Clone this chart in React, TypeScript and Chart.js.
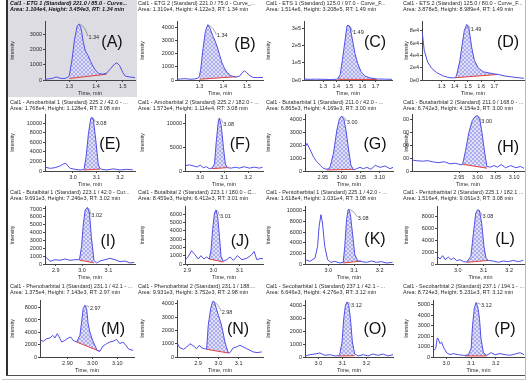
import React, { useEffect, useRef } from "react";
import { Chart, registerables } from "chart.js";

Chart.register(...registerables);

const FONT = "'Liberation Sans', Arial, sans-serif";
const BLUE = "#4f4fe8";
const RED = "#e2403c";
const AXIS = "#444444";
const TEXT = "#2a2a2a";

// ---------- Panel A : ETG 1 ----------
const aTitle = ["Cal1 - ETG 1 (Standard) 221.0 / 85.0 - Curve...", "Area: 1.104e4, Height: 3.454e3, RT: 1.34 min"];
const aTime = [1.209, 1.225, 1.24, 1.25, 1.26, 1.27, 1.285, 1.295, 1.3, 1.31, 1.32, 1.33, 1.338, 1.345, 1.352, 1.36, 1.37, 1.38, 1.39, 1.4, 1.41, 1.425, 1.44, 1.455, 1.47, 1.478, 1.488, 1.5, 1.51, 1.525, 1.546];
const aIntensity = [40, 80, 120, 200, 150, 100, 110, 180, 300, 1300, 2700, 3550, 3650, 3300, 2500, 1900, 1600, 1200, 850, 600, 420, 380, 450, 750, 1050, 1120, 950, 500, 250, 200, 150];
const aBaseTime = [1.3, 1.44];
const aBaseIntensity = [100, 380];
const aXTicks = [1.3, 1.4, 1.5];
const aYTicks = [0, 1000, 2000, 3000];

// ---------- Panel B : ETG 2 ----------
const bTitle = ["Cal1 - ETG 2 (Standard) 221.0 / 75.0 - Curve_...", "Area: 1.310e4, Height: 4.122e3, RT: 1.34 min"];
const bTime = [1.205, 1.22, 1.24, 1.26, 1.28, 1.295, 1.3, 1.305, 1.315, 1.325, 1.335, 1.345, 1.355, 1.365, 1.375, 1.385, 1.395, 1.405, 1.415, 1.43, 1.445, 1.455, 1.47, 1.48, 1.49, 1.5, 1.51, 1.525, 1.545, 1.568];
const bIntensity = [40, 80, 100, 60, 80, 150, 300, 800, 2400, 3700, 4200, 3900, 3400, 3000, 2500, 1900, 1300, 900, 600, 350, 250, 220, 300, 550, 700, 550, 350, 200, 180, 200];
const bBaseTime = [1.3, 1.455];
const bBaseIntensity = [60, 250];
const bXTicks = [1.3, 1.4, 1.5];
const bYTicks = [0, 1000, 2000, 3000, 4000];

// ---------- Panel C : ETS 1 ----------
const cTitle = ["Cal1 - ETS 1 (Standard) 125.0 / 97.0 - Curve_F...", "Area: 1.514e6, Height: 3.208e5, RT: 1.49 min"];
const cTime = [1.154, 1.2, 1.25, 1.3, 1.35, 1.4, 1.41, 1.43, 1.447, 1.467, 1.482, 1.49, 1.505, 1.523, 1.543, 1.564, 1.589, 1.62, 1.658, 1.71, 1.77, 1.826];
const cIntensity = [5000, 4000, 5000, 4000, 3000, 4000, 6000, 30000, 115000, 230000, 315000, 322000, 310000, 240000, 155000, 97000, 49000, 23000, 12000, 6000, 5000, 4000];
const cBaseTime = [1.41, 1.71];
const cBaseIntensity = [4000, 3000];
const cXTicks = [1.3, 1.4, 1.5, 1.6, 1.7];
const cYTicks = [0, 100000, 200000, 300000];

// ---------- Panel D : ETS 2 ----------
const dTitle = ["Cal1 - ETS 2 (Standard) 125.0 / 80.0 - Curve_F...", "Area: 3.878e5, Height: 8.989e4, RT: 1.49 min"];
const dTime = [1.153, 1.168, 1.194, 1.224, 1.262, 1.313, 1.363, 1.389, 1.405, 1.414, 1.439, 1.457, 1.472, 1.49, 1.508, 1.528, 1.548, 1.579, 1.617, 1.655, 1.705, 1.73, 1.781, 1.857, 1.925];
const dIntensity = [77000, 48000, 29000, 19000, 12000, 6400, 3700, 3500, 3800, 8000, 32000, 59000, 80000, 90000, 83000, 53000, 32000, 19000, 13300, 11700, 9600, 9000, 6400, 4300, 2700];
const dBaseTime = [1.405, 1.73];
const dBaseIntensity = [3800, 9000];
const dXTicks = [1.3, 1.4, 1.5, 1.6, 1.7];
const dYTicks = [0, 20000, 40000, 60000, 80000];

// ---------- Panel E : Amobarbital 1 ----------
const eTitle = ["Cal1 - Amobarbital 1 (Standard) 225.2 / 42.0 - ...", "Area: 1.768e4, Height: 1.128e4, RT: 3.08 min"];
const eTime = [2.884, 2.903, 2.924, 2.945, 2.959, 2.969, 2.988, 3.009, 3.03, 3.047, 3.056, 3.066, 3.076, 3.08, 3.087, 3.097, 3.108, 3.115, 3.123, 3.144, 3.172, 3.2, 3.229, 3.255];
const eIntensity = [770, 560, 700, 1050, 1470, 1600, 560, 350, 210, 300, 3000, 7900, 11050, 11300, 10700, 6500, 1260, 500, 350, 210, 450, 210, 350, 250];
const eBaseTime = [3.047, 3.115];
const eBaseIntensity = [200, 400];
const eXTicks = [3.0, 3.1, 3.2];
const eYTicks = [0, 2000, 4000, 6000, 8000, 10000];

// ---------- Panel F : Amobarbital 2 ----------
const fTitle = ["Cal1 - Amobarbital 2 (Standard) 225.2 / 182.0 - ...", "Area: 1.573e4, Height: 1.114e4, RT: 3.08 min"];
const fTime = [2.938, 2.955, 2.976, 2.988, 3.0, 3.013, 3.026, 3.038, 3.05, 3.06, 3.067, 3.076, 3.08, 3.088, 3.097, 3.105, 3.113, 3.13, 3.147, 3.163, 3.184, 3.205, 3.226, 3.247, 3.26];
const fIntensity = [1100, 1300, 1000, 850, 1250, 700, 900, 500, 600, 1500, 6000, 10500, 11100, 9500, 5000, 1500, 700, 600, 800, 600, 900, 600, 800, 600, 800];
const fBaseTime = [3.05, 3.113];
const fBaseIntensity = [500, 700];
const fXTicks = [3.0, 3.1, 3.2];
const fYTicks = [0, 5000, 10000];

// ---------- Panel G : Butabarbital 1 ----------
const gTitle = ["Cal1 - Butabarbital 1 (Standard) 211.0 / 42.0 - ...", "Area: 6.865e3, Height: 4.169e3, RT: 3.00 min"];
const gTime = [2.904, 2.908, 2.917, 2.925, 2.934, 2.943, 2.952, 2.961, 2.969, 2.978, 2.987, 2.994, 3.0, 3.006, 3.011, 3.018, 3.024, 3.031, 3.039, 3.048, 3.057, 3.066, 3.077, 3.088, 3.101, 3.114, 3.127, 3.135];
const gIntensity = [1880, 2140, 1630, 1110, 720, 460, 200, 130, 280, 1370, 3170, 4080, 4260, 3950, 3170, 1630, 460, 80, 180, 280, 180, 280, 130, 440, 280, 390, 180, 280];
const gBaseTime = [2.961, 3.031];
const gBaseIntensity = [80, 130];
const gXTicks = [2.95, 3.0, 3.05, 3.1];
const gYTicks = [0, 1000, 2000, 3000, 4000];

// ---------- Panel H : Butabarbital 2 ----------
const hTitle = ["Cal1 - Butabarbital 2 (Standard) 211.0 / 168.0 - ...", "Area: 6.742e3, Height: 4.154e3, RT: 3.00 min"];
const hTime = [2.822, 2.835, 2.85, 2.865, 2.88, 2.895, 2.91, 2.925, 2.94, 2.955, 2.96, 2.968, 2.977, 2.986, 2.993, 3.0, 3.007, 3.013, 3.02, 3.026, 3.036, 3.045, 3.055, 3.065, 3.077, 3.091, 3.105, 3.118, 3.127];
const hIntensity = [850, 800, 760, 800, 700, 650, 720, 560, 600, 480, 520, 1600, 3000, 3900, 4200, 4300, 3950, 2900, 1400, 350, 300, 420, 300, 500, 250, 420, 260, 350, 200];
const hBaseTime = [2.96, 3.026];
const hBaseIntensity = [520, 220];
const hXTicks = [2.95, 3.0, 3.05, 3.1];
const hYTicks = [0, 1000, 2000, 3000, 4000];

// ---------- Panel I : Butalbital 1 ----------
const iTitle = ["Cal1 - Butalbital 1 (Standard) 223.1 / 42.0 - Cur...", "Area: 9.691e3, Height: 7.246e3, RT: 3.02 min"];
const iTime = [2.862, 2.878, 2.897, 2.916, 2.935, 2.954, 2.973, 2.99, 2.998, 3.005, 3.012, 3.02, 3.028, 3.035, 3.045, 3.055, 3.068, 3.087, 3.106, 3.125, 3.144, 3.163, 3.182, 3.198];
const iIntensity = [890, 340, 550, 470, 640, 470, 550, 550, 2250, 5210, 6900, 7200, 6480, 3520, 450, 130, 380, 550, 720, 550, 300, 380, 130, 210];
const iBaseTime = [2.99, 3.045];
const iBaseIntensity = [500, 150];
const iXTicks = [2.9, 3.0, 3.1];
const iYTicks = [0, 1000, 2000, 3000, 4000, 5000, 6000, 7000];

// ---------- Panel J : Butalbital 2 ----------
const jTitle = ["Cal1 - Butalbital 2 (Standard) 223.1 / 180.0 - C...", "Area: 8.459e3, Height: 6.412e3, RT: 3.01 min"];
const jTime = [2.893, 2.904, 2.916, 2.929, 2.942, 2.952, 2.964, 2.974, 2.984, 2.991, 2.997, 3.004, 3.01, 3.016, 3.023, 3.029, 3.038, 3.051, 3.064, 3.077, 3.092, 3.109, 3.128, 3.147, 3.156, 3.166, 3.182, 3.192];
const jIntensity = [520, 920, 1600, 1120, 600, 1000, 600, 840, 600, 1720, 4120, 6120, 6500, 5720, 3320, 920, 320, 520, 840, 440, 1000, 520, 680, 1120, 1520, 520, 680, 600];
const jBaseTime = [2.984, 3.038];
const jBaseIntensity = [600, 250];
const jXTicks = [2.9, 3.0, 3.1];
const jYTicks = [0, 1000, 2000, 3000, 4000, 5000, 6000];

// ---------- Panel K : Pentobarbital 1 ----------
const kTitle = ["Cal1 - Pentobarbital 1 (Standard) 225.1 / 42.0 - ...", "Area: 1.618e4, Height: 1.031e4, RT: 3.08 min"];
const kTime = [2.911, 2.928, 2.948, 2.958, 2.964, 2.971, 2.977, 2.986, 2.997, 3.01, 3.025, 3.045, 3.058, 3.064, 3.071, 3.077, 3.08, 3.086, 3.094, 3.103, 3.114, 3.129, 3.149, 3.168, 3.188, 3.207, 3.227, 3.25];
const kIntensity = [810, 500, 1120, 3300, 7060, 9250, 7690, 3310, 810, 310, 500, 190, 310, 3310, 8310, 10190, 10300, 9250, 5810, 1750, 620, 440, 310, 560, 310, 440, 190, 310];
const kBaseTime = [3.058, 3.129];
const kBaseIntensity = [190, 560];
const kXTicks = [3.0, 3.1, 3.2];
const kYTicks = [0, 2000, 4000, 6000, 8000, 10000];

// ---------- Panel L : Pentobarbital 2 ----------
const lTitle = ["Cal1 - Pentobarbital 2 (Standard) 225.1 / 182.1 ...", "Area: 1.516e4, Height: 9.061e3, RT: 3.08 min"];
const lTime = [2.92, 2.931, 2.941, 2.951, 2.963, 2.974, 2.984, 2.996, 3.009, 3.022, 3.035, 3.051, 3.061, 3.07, 3.077, 3.084, 3.093, 3.102, 3.11, 3.119, 3.138, 3.158, 3.177, 3.197, 3.216, 3.236, 3.255];
const lIntensity = [1290, 840, 1400, 730, 1170, 730, 1010, 560, 730, 390, 350, 1290, 5200, 8550, 9100, 9000, 6870, 2960, 950, 600, 500, 280, 500, 390, 610, 390, 610];
const lBaseTime = [3.035, 3.119];
const lBaseIntensity = [280, 600];
const lXTicks = [3.0, 3.1, 3.2];
const lYTicks = [0, 2000, 4000, 6000, 8000];

// ---------- Panel M : Phenobarbital 1 ----------
const mTitle = ["Cal1 - Phenobarbital 1 (Standard) 231.1 / 42.1 - ...", "Area: 1.375e4, Height: 7.143e3, RT: 2.97 min"];
const mTime = [2.793, 2.803, 2.817, 2.83, 2.841, 2.85, 2.859, 2.867, 2.877, 2.89, 2.903, 2.913, 2.923, 2.937, 2.95, 2.957, 2.963, 2.97, 2.977, 2.983, 2.99, 3.001, 3.01, 3.019, 3.03, 3.043, 3.057, 3.07, 3.083, 3.097, 3.11, 3.123, 3.134, 3.147, 3.163];
const mIntensity = [2700, 2540, 2970, 3080, 3510, 3080, 3780, 3240, 2430, 2700, 3080, 3240, 2700, 2430, 3510, 5680, 7840, 8380, 7840, 5410, 4050, 2700, 1890, 1080, 920, 1780, 2160, 2430, 2540, 2860, 2160, 2430, 1890, 1240, 1080];
const mBaseTime = [2.937, 3.03];
const mBaseIntensity = [2430, 920];
const mXTicks = [2.9, 3.0, 3.1];
const mYTicks = [0, 2000, 4000, 6000, 8000];

// ---------- Panel N : Phenobarbital 2 ----------
const nTitle = ["Cal1 - Phenobarbital 2 (Standard) 231.1 / 188....", "Area: 9.931e3, Height: 3.752e3, RT: 2.98 min"];
const nTime = [2.798, 2.811, 2.828, 2.844, 2.86, 2.877, 2.893, 2.906, 2.918, 2.931, 2.942, 2.95, 2.962, 2.972, 2.98, 2.988, 3.0, 3.011, 3.021, 3.032, 3.049, 3.057, 3.073, 3.09, 3.106, 3.123, 3.139, 3.156, 3.172, 3.191, 3.213];
const nIntensity = [1000, 680, 580, 750, 1000, 830, 630, 880, 680, 630, 580, 2380, 3630, 4180, 4130, 3750, 3130, 2630, 2000, 1130, 300, 330, 680, 750, 880, 750, 630, 500, 380, 330, 380];
const nBaseTime = [2.942, 3.049];
const nBaseIntensity = [580, 300];
const nXTicks = [2.9, 3.0, 3.1];
const nYTicks = [0, 1000, 2000, 3000, 4000];

// ---------- Panel O : Secobarbital 1 ----------
const oTitle = ["Cal1 - Secobarbital 1 (Standard) 237.1 / 42.1 - ...", "Area: 6.646e3, Height: 4.276e3, RT: 3.12 min"];
const oTime = [2.946, 2.964, 2.985, 3.006, 3.027, 3.048, 3.069, 3.083, 3.089, 3.099, 3.106, 3.113, 3.12, 3.127, 3.134, 3.142, 3.152, 3.166, 3.187, 3.208, 3.228, 3.249, 3.27, 3.291, 3.312];
const oIntensity = [80, 180, 230, 310, 130, 180, 80, 100, 180, 1160, 2970, 4000, 4260, 4000, 2970, 1160, 230, 80, 180, 80, 230, 130, 230, 80, 180];
const oBaseTime = [3.083, 3.152];
const oBaseIntensity = [80, 100];
const oXTicks = [3.0, 3.1, 3.2];
const oYTicks = [0, 1000, 2000, 3000, 4000];

// ---------- Panel P : Secobarbital 2 ----------
const pTitle = ["Cal1 - Secobarbital 2 (Standard) 237.1 / 194.1 - ...", "Area: 8.724e3, Height: 5.231e3, RT: 3.12 min"];
const pTime = [2.95, 2.957, 2.963, 2.967, 2.974, 2.981, 2.988, 3.001, 3.015, 3.028, 3.048, 3.069, 3.075, 3.089, 3.1, 3.106, 3.113, 3.12, 3.127, 3.134, 3.14, 3.15, 3.163, 3.181, 3.197, 3.217, 3.238, 3.258, 3.278, 3.298, 3.314];
const pIntensity = [640, 800, 1800, 1750, 1270, 1430, 960, 410, 220, 320, 220, 160, 150, 220, 800, 3030, 4620, 5200, 4780, 3660, 1750, 410, 160, 410, 220, 320, 220, 160, 290, 410, 220];
const pBaseTime = [3.075, 3.163];
const pBaseIntensity = [100, 100];
const pXTicks = [3.0, 3.1, 3.2];
const pYTicks = [0, 1000, 2000, 3000, 4000, 5000];

// ---------- Layout (pixel geometry, not data) ----------
const COL_LEFT = [10, 138, 266, 403];
const COL_RIGHT = [138, 266, 401, 527];
const COL_YTITLE_PAD = [0, 2.5, 0, 1.5];
const ROW_TOP = [0, 97, 187, 281];
const ROW_TITLE_PAD = [0.5, 2, 2, 2];
const ROW_PLOT_TOP = [21, 114, 206, 300];
const ROW_ZERO = [80, 171, 264, 357];

type Spec = {
  letter: string; col: number; row: number;
  title: string[]; time: number[]; intensity: number[];
  baseTime: number[]; baseIntensity: number[];
  xTicks: number[]; yTicks: number[];
  xMin: number; xMax: number; yMax: number;
  xDec: number; yExp?: boolean; rt: string;
  axisX: number; plotRight: number;
  letterX: number; letterY: number; rtDx: number; rtDy: number;
  bold?: boolean;
};

const SPECS: Spec[] = [
  { letter: "A", col: 0, row: 0, title: aTitle, time: aTime, intensity: aIntensity, baseTime: aBaseTime, baseIntensity: aBaseIntensity, xTicks: aXTicks, yTicks: aYTicks, xMin: 1.209, xMax: 1.546, yMax: 3850, xDec: 1, rt: "1.34", axisX: 45, plotRight: 135, letterX: 112, letterY: 43, rtDx: 9, rtDy: 13, bold: true },
  { letter: "B", col: 1, row: 0, title: bTitle, time: bTime, intensity: bIntensity, baseTime: bBaseTime, baseIntensity: bBaseIntensity, xTicks: bXTicks, yTicks: bYTicks, xMin: 1.205, xMax: 1.568, yMax: 4480, xDec: 1, rt: "1.34", axisX: 177, plotRight: 263, letterX: 245, letterY: 45, rtDx: 9, rtDy: 11 },
  { letter: "C", col: 2, row: 0, title: cTitle, time: cTime, intensity: cIntensity, baseTime: cBaseTime, baseIntensity: cBaseIntensity, xTicks: cXTicks, yTicks: cYTicks, xMin: 1.154, xMax: 1.826, yMax: 345000, xDec: 1, yExp: true, rt: "1.49", axisX: 304, plotRight: 392, letterX: 375, letterY: 43, rtDx: 5, rtDy: 8 },
  { letter: "D", col: 3, row: 0, title: dTitle, time: dTime, intensity: dIntensity, baseTime: dBaseTime, baseIntensity: dBaseIntensity, xTicks: dXTicks, yTicks: dYTicks, xMin: 1.151, xMax: 1.925, yMax: 95700, xDec: 1, yExp: true, rt: "1.49", axisX: 422, plotRight: 524, letterX: 508, letterY: 43, rtDx: 4, rtDy: 5 },
  { letter: "E", col: 0, row: 1, title: eTitle, time: eTime, intensity: eIntensity, baseTime: eBaseTime, baseIntensity: eBaseIntensity, xTicks: eXTicks, yTicks: eYTicks, xMin: 2.881, xMax: 3.264, yMax: 11950, xDec: 1, rt: "3.08", axisX: 45, plotRight: 135, letterX: 110, letterY: 145, rtDx: 4, rtDy: 6 },
  { letter: "F", col: 1, row: 1, title: fTitle, time: fTime, intensity: fIntensity, baseTime: fBaseTime, baseIntensity: fBaseIntensity, xTicks: fXTicks, yTicks: fYTicks, xMin: 2.937, xMax: 3.262, yMax: 11950, xDec: 1, rt: "3.08", axisX: 185, plotRight: 263, letterX: 240, letterY: 145, rtDx: 4, rtDy: 6 },
  { letter: "G", col: 2, row: 1, title: gTitle, time: gTime, intensity: gIntensity, baseTime: gBaseTime, baseIntensity: gBaseIntensity, xTicks: gXTicks, yTicks: gYTicks, xMin: 2.903, xMax: 3.135, yMax: 4420, xDec: 2, rt: "3.00", axisX: 305, plotRight: 393, letterX: 375, letterY: 145, rtDx: 5, rtDy: 6 },
  { letter: "H", col: 3, row: 1, title: hTitle, time: hTime, intensity: hIntensity, baseTime: hBaseTime, baseIntensity: hBaseIntensity, xTicks: hXTicks, yTicks: hYTicks, xMin: 2.822, xMax: 3.127, yMax: 4420, xDec: 2, rt: "3.00", axisX: 412, plotRight: 524, letterX: 508, letterY: 148, rtDx: 4, rtDy: 6 },
  { letter: "I", col: 0, row: 2, title: iTitle, time: iTime, intensity: iIntensity, baseTime: iBaseTime, baseIntensity: iBaseIntensity, xTicks: iXTicks, yTicks: iYTicks, xMin: 2.859, xMax: 3.201, yMax: 7380, xDec: 1, rt: "3.02", axisX: 45, plotRight: 135, letterX: 108, letterY: 242, rtDx: 4, rtDy: 8 },
  { letter: "J", col: 1, row: 2, title: jTitle, time: jTime, intensity: jIntensity, baseTime: jBaseTime, baseIntensity: jBaseIntensity, xTicks: jXTicks, yTicks: jYTicks, xMin: 2.891, xMax: 3.19, yMax: 6960, xDec: 1, rt: "3.01", axisX: 185, plotRight: 263, letterX: 240, letterY: 242, rtDx: 4, rtDy: 7 },
  { letter: "K", col: 2, row: 2, title: kTitle, time: kTime, intensity: kIntensity, baseTime: kBaseTime, baseIntensity: kBaseIntensity, xTicks: kXTicks, yTicks: kYTicks, xMin: 2.909, xMax: 3.252, yMax: 10880, xDec: 1, rt: "3.08", axisX: 305, plotRight: 393, letterX: 375, letterY: 240, rtDx: 9, rtDy: 9 },
  { letter: "L", col: 3, row: 2, title: lTitle, time: lTime, intensity: lIntensity, baseTime: lBaseTime, baseIntensity: lBaseIntensity, xTicks: lXTicks, yTicks: lYTicks, xMin: 2.919, xMax: 3.258, yMax: 9750, xDec: 1, rt: "3.08", axisX: 437, plotRight: 524, letterX: 505, letterY: 240, rtDx: 5, rtDy: 7 },
  { letter: "M", col: 0, row: 3, title: mTitle, time: mTime, intensity: mIntensity, baseTime: mBaseTime, baseIntensity: mBaseIntensity, xTicks: mXTicks, yTicks: mYTicks, xMin: 2.79, xMax: 3.167, yMax: 9240, xDec: 2, rt: "2.97", axisX: 40, plotRight: 134, letterX: 113, letterY: 330, rtDx: 5, rtDy: 3 },
  { letter: "N", col: 1, row: 3, title: nTitle, time: nTime, intensity: nIntensity, baseTime: nBaseTime, baseIntensity: nBaseIntensity, xTicks: nXTicks, yTicks: nYTicks, xMin: 2.796, xMax: 3.22, yMax: 4280, xDec: 1, rt: "2.98", axisX: 177, plotRight: 263, letterX: 238, letterY: 330, rtDx: 9, rtDy: 11 },
  { letter: "O", col: 2, row: 3, title: oTitle, time: oTime, intensity: oIntensity, baseTime: oBaseTime, baseIntensity: oBaseIntensity, xTicks: oXTicks, yTicks: oYTicks, xMin: 2.944, xMax: 3.312, yMax: 4410, xDec: 1, rt: "3.12", axisX: 305, plotRight: 393, letterX: 375, letterY: 330, rtDx: 4, rtDy: 4 },
  { letter: "P", col: 3, row: 3, title: pTitle, time: pTime, intensity: pIntensity, baseTime: pBaseTime, baseIntensity: pBaseIntensity, xTicks: pXTicks, yTicks: pYTicks, xMin: 2.946, xMax: 3.314, yMax: 5440, xDec: 1, rt: "3.12", axisX: 433, plotRight: 524, letterX: 505, letterY: 330, rtDx: 5, rtDy: 3 },
];

function makePattern(): CanvasPattern | string {
  const c = document.createElement("canvas");
  c.width = 4;
  c.height = 4;
  const g = c.getContext("2d");
  if (!g) return "#d4d4f6";
  g.fillStyle = "#dfdff9";
  g.fillRect(0, 0, 4, 4);
  g.fillStyle = "#aeaeec";
  for (let i = 0; i < 4; i++) {
    g.fillRect(i, i, 1, 1);
    g.fillRect(3 - i, i, 1, 1);
  }
  return g.createPattern(c, "repeat") || "#d4d4f6";
}

function Panel({ s }: { s: Spec }) {
  const ref = useRef<HTMLCanvasElement>(null);
  const left = COL_LEFT[s.col];
  const right = COL_RIGHT[s.col];
  const top = ROW_TOP[s.row];
  const zero = ROW_ZERO[s.row];
  const bottom = zero + 18;
  const width = right - left;
  const height = bottom - top;

  useEffect(() => {
    const canvas = ref.current;
    if (!canvas) return;
    const pts = s.time.map((t, i) => ({ x: t, y: s.intensity[i] }));
    const peak = pts.filter((p) => p.x >= s.baseTime[0] - 1e-9 && p.x <= s.baseTime[1] + 1e-9);
    const base = s.baseTime.map((t, i) => ({ x: t, y: s.baseIntensity[i] }));
    const apex = peak.reduce((a, b) => (b.y > a.y ? b : a), peak[0]);
    const lh = 1.1;
    const titlePadTop = ROW_TITLE_PAD[s.row];
    const titlePadBottom = ROW_PLOT_TOP[s.row] - top - titlePadTop - 2 * 5.5 * lh;
    const tickFont = { size: 5.5, family: FONT };

    const annot = {
      id: "annot" + s.letter,
      afterDatasetsDraw(chart: any) {
        const { ctx, scales } = chart;
        const px = scales.x.getPixelForValue(apex.x);
        const py = scales.y.getPixelForValue(apex.y);
        ctx.save();
        ctx.strokeStyle = "#666";
        ctx.lineWidth = 0.6;
        ctx.beginPath();
        ctx.moveTo(px + 1, py + 0.5);
        ctx.quadraticCurveTo(px + s.rtDx * 0.6, py + s.rtDy * 0.2, px + s.rtDx - 0.5, py + s.rtDy - 1);
        ctx.stroke();
        ctx.fillStyle = TEXT;
        ctx.font = `5.5px ${FONT}`;
        ctx.textAlign = "left";
        ctx.textBaseline = "middle";
        ctx.fillText(s.rt, px + s.rtDx, py + s.rtDy);
        ctx.font = `16px ${FONT}`;
        ctx.fillStyle = "#111";
        ctx.textAlign = "center";
        ctx.fillText(`(${s.letter})`, s.letterX - left, s.letterY - top);
        ctx.restore();
      },
    };

    const chart = new Chart(canvas, {
      type: "line",
      data: {
        datasets: [
          { data: peak, borderColor: "transparent", borderWidth: 0, pointRadius: 0, fill: 2, backgroundColor: makePattern() as any },
          { data: pts, borderColor: BLUE, borderWidth: 1, pointRadius: 0, fill: false },
          { data: base, borderColor: RED, borderWidth: 1, pointRadius: 0, fill: false },
        ],
      },
      options: {
        responsive: false,
        maintainAspectRatio: false,
        animation: false,
        events: [],
        layout: { padding: { left: 0, top: 0, bottom: 0, right: right - s.plotRight } },
        plugins: {
          legend: { display: false },
          tooltip: { enabled: false },
          filler: { drawTime: "beforeDatasetsDraw" },
          title: {
            display: true,
            text: s.title,
            align: "start",
            color: s.bold ? "#111" : TEXT,
            font: { size: 5.5, family: FONT, lineHeight: lh, weight: s.bold ? "bold" : "normal", style: s.bold ? "italic" : "normal" },
            padding: { top: titlePadTop, bottom: titlePadBottom },
          },
        },
        scales: {
          x: {
            type: "linear",
            min: s.xMin,
            max: s.xMax,
            afterBuildTicks: (sc: any) => {
              sc.ticks = s.xTicks.map((v) => ({ value: v }));
            },
            afterFit: (sc: any) => {
              sc.height = bottom - zero;
            },
            ticks: { callback: (v: any) => Number(v).toFixed(s.xDec), font: tickFont, color: TEXT, padding: 1, maxRotation: 0, autoSkip: false },
            grid: { drawOnChartArea: false, tickLength: 2, color: AXIS },
            border: { color: AXIS, width: 1 },
            title: { display: true, text: "Time, min", font: tickFont, color: TEXT, padding: { top: 0, bottom: 1 } },
          },
          y: {
            type: "linear",
            min: 0,
            max: s.yMax,
            afterBuildTicks: (sc: any) => {
              sc.ticks = s.yTicks.map((v) => ({ value: v }));
            },
            afterFit: (sc: any) => {
              sc.width = s.axisX - left;
            },
            ticks: {
              callback: (v: any) => (s.yExp ? Number(v).toExponential(0).replace("+", "") : String(v)),
              font: tickFont,
              color: TEXT,
              padding: 1,
              autoSkip: false,
            },
            grid: { drawOnChartArea: false, tickLength: 2, color: AXIS },
            border: { color: AXIS, width: 1 },
            title: { display: true, text: "Intensity", font: { size: 5, family: FONT, lineHeight: 1 }, color: TEXT, padding: { top: COL_YTITLE_PAD[s.col], bottom: 0 } },
          },
        },
      },
      plugins: [annot],
    } as any);
    return () => chart.destroy();
  }, [s]);

  return (
    <canvas
      ref={ref}
      width={width}
      height={height}
      style={{ position: "absolute", left, top, width, height }}
    />
  );
}

export default function App() {
  return (
    <div style={{ position: "fixed", left: 0, top: 0, width: 530, height: 383, background: "#ffffff", overflow: "hidden", fontFamily: FONT }}>
      <div style={{ position: "absolute", left: 8, top: 0, width: 129, height: 97, background: "#dcdce2" }} />
      <div style={{ position: "absolute", left: 6, top: 0, width: 1.5, height: 376, background: "#303030" }} />
      <div style={{ position: "absolute", left: 6, top: 375, width: 519, height: 1, background: "#505050" }} />
      <div style={{ position: "absolute", left: 525, top: 0, width: 1, height: 379, background: "#b8b8b8" }} />
      <div style={{ position: "absolute", left: 2, top: 379, width: 524, height: 1, background: "#c8c8c8" }} />
      {SPECS.map((s) => (
        <Panel key={s.letter} s={s} />
      ))}
    </div>
  );
}
